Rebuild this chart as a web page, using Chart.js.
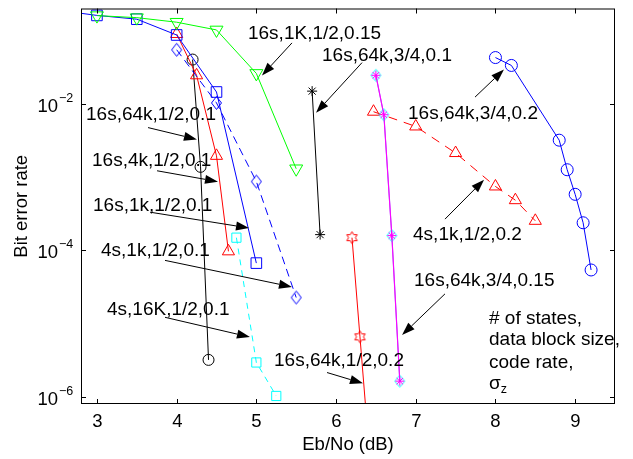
<!DOCTYPE html>
<html>
<head>
<meta charset="utf-8">
<script src="https://cdn.jsdelivr.net/npm/chart.js@4"></script>
<style>
  html, body { margin: 0; padding: 0; background: #fff; }
</style>
</head>
<body>
<canvas id="berChart" width="633" height="459"></canvas>
<script>
// values: x = Eb/No (dB), y = bit error rate
const green_x = [3.0, 3.5, 4.0, 4.5, 5.0, 5.5];
const green_y = [0.16, 0.15, 0.13, 0.102, 0.026, 0.0013];

const blueSq_x = [2.5, 3.0, 3.5, 4.0, 4.5, 5.0];
const blueSq_y = [0.19, 0.161, 0.143, 0.087, 0.0145, 6.7e-5];

const blueDia_x = [4.0, 4.5, 5.0, 5.5];
const blueDia_y = [0.0547, 0.0103, 8.7e-4, 2.27e-5];

const red_x = [4.0, 4.25, 4.5, 4.65];
const red_y = [0.0898, 0.0245, 0.00195, 9.7e-5];

const blackCirc_x = [4.2, 4.3, 4.4];
const blackCirc_y = [0.0402, 0.00138, 3.2e-6];

const cyanSq_x = [4.75, 5.0, 5.25];
const cyanSq_y = [1.49e-4, 2.95e-6, 1.03e-6];

const blackStar_x = [5.7, 5.8];
const blackStar_y = [0.0149, 1.64e-4];

const hexa_x = [6.2, 6.3, 6.4];
const hexa_y = [1.49e-4, 6.6e-6, 3e-7];

const magenta_x = [6.5, 6.6, 6.7, 6.8];
const magenta_y = [0.0245, 0.0071, 1.59e-4, 1.64e-6];

const redDash_x = [6.47, 7.0, 7.5, 8.0, 8.25, 8.5];
const redDash_y = [0.00781, 0.00491, 0.00213, 7.45e-4, 4.84e-4, 2.53e-4];

const blueCirc_x = [8.0, 8.2, 8.8, 8.9, 9.0, 9.1, 9.2];
const blueCirc_y = [0.0428, 0.0334, 0.00319, 0.00126, 5.82e-4, 2.38e-4, 5.4e-5];

const xTicks = [3, 4, 5, 6, 7, 8, 9];
const yTicks = [1e-6, 1e-4, 1e-2];

// labels with arrows, anchored in data units
const notes = [
  { text: '16s,1K,1/2,0.15',  x: 4.895, y: 0.0895,  tail: [5.447, 0.0678],  head: [5.071, 0.0244] },
  { text: '16s,64k,3/4,0.1',  x: 5.824, y: 0.0453,  tail: [6.326, 0.0365],  head: [5.749, 0.00755] },
  { text: '16s,64k,3/4,0.2',  x: 6.903, y: 0.00731, tail: [7.744, 0.01236], head: [8.107, 0.0294] },
  { text: '16s,64k,1/2,0.1',  x: 2.863, y: 0.0071,  tail: [3.641, 0.00474], head: [4.255, 0.00327] },
  { text: '16s,4k,1/2,0.1',   x: 2.938, y: 0.00166, tail: [3.754, 0.00122], head: [4.519, 8.67e-4] },
  { text: '16s,1k,1/2,0.1',   x: 2.951, y: 4.12e-4, tail: [3.666, 3.32e-4], head: [4.908, 2.02e-4] },
  { text: '4s,1k,1/2,0.1',    x: 3.051, y: 9.95e-5, tail: [3.854, 7.3e-5],  head: [5.447, 3.17e-5] },
  { text: '4s,16K,1/2,0.1',   x: 3.126, y: 1.56e-5, tail: [3.854, 1.22e-5], head: [4.92, 6.55e-6] },
  { text: '16s,64k,1/2,0.2',  x: 5.222, y: 3.12e-6, tail: [5.887, 2.15e-6], head: [6.338, 1.53e-6] },
  { text: '16s,64k,3/4,0.15', x: 6.978, y: 3.81e-5, tail: [7.367, 2.55e-5], head: [6.828, 6.97e-6] },
  { text: '4s,1k,1/2,0.2',    x: 6.966, y: 1.63e-4, tail: [7.367, 2.67e-4], head: [7.857, 9.2e-4] }
];
const keyLines = ['# of states,', 'data block size,', 'code rate,'];
const keyX = 7.919;
const keyY = [1.18e-5, 5.97e-6, 2.93e-6, 1.53e-6];

const FONT = '"Liberation Sans", Arial, Helvetica, sans-serif';

function pts(xs, ys) {
  return xs.map((x, i) => ({ x: x, y: ys[i] }));
}

// small outline markers that Chart.js has no built-in style for
function hexagram(color, r) {
  const c = document.createElement('canvas');
  const s = Math.ceil(r * 2 + 3);
  c.width = c.height = s;
  const g = c.getContext('2d');
  g.strokeStyle = color;
  g.lineWidth = 1;
  g.beginPath();
  for (let i = 0; i < 12; i++) {
    const a = -Math.PI / 2 + i * Math.PI / 6;
    const rr = i % 2 ? r * 0.577 : r;
    const px = s / 2 + rr * Math.cos(a), py = s / 2 + rr * Math.sin(a);
    if (i) g.lineTo(px, py); else g.moveTo(px, py);
  }
  g.closePath();
  g.stroke();
  return c;
}

function diamond(color, w, h) {
  const c = document.createElement('canvas');
  c.width = w + 3; c.height = h + 3;
  const g = c.getContext('2d');
  const cx = c.width / 2, cy = c.height / 2;
  g.strokeStyle = color;
  g.lineWidth = 1;
  g.beginPath();
  g.moveTo(cx, cy - h / 2);
  g.lineTo(cx + w / 2, cy);
  g.lineTo(cx, cy + h / 2);
  g.lineTo(cx - w / 2, cy);
  g.closePath();
  g.stroke();
  return c;
}

function series(data, color, style, radius, extra) {
  return Object.assign({
    data: data,
    borderColor: color,
    borderWidth: 1,
    pointStyle: style,
    pointRadius: radius,
    pointBorderColor: color,
    pointBackgroundColor: 'rgba(0,0,0,0)',
    pointBorderWidth: 1,
    tension: 0,
    fill: false
  }, extra || {});
}

const datasets = [
  series(pts(magenta_x, magenta_y), '#ff00ff', 'star', 4.5),
  series(pts(magenta_x, magenta_y), '#a060ff', diamond('#00ffff', 10, 12), 6, { borderWidth: 1.2 }),
  series(pts(green_x, green_y), '#00ff00', 'triangle', 7.5, { pointRotation: 180 }),
  series(pts(blueSq_x, blueSq_y), '#0000ff', 'rect', 7.5),
  series(pts(blueDia_x, blueDia_y), '#0000ff', diamond('#0000ff', 10, 13), 6, { borderDash: [8, 5] }),
  series(pts(red_x, red_y), '#ff0000', 'triangle', 7),
  series(pts(blackCirc_x, blackCirc_y), '#000000', 'circle', 5.5),
  series(pts(cyanSq_x, cyanSq_y), '#00ffff', 'rect', 6.5, { borderDash: [6, 5] }),
  series(pts(blackStar_x, blackStar_y), '#000000', 'star', 5),
  series(pts(hexa_x, hexa_y), '#ff0000', hexagram('#ff0000', 6), 6),
  series(pts(redDash_x, redDash_y), '#ff0000', 'triangle', 7, { borderDash: [9, 7] }),
  series(pts(blueCirc_x, blueCirc_y), '#0000ff', 'circle', 6)
];

function arrow(ctx, x0, y0, x1, y1) {
  const a = Math.atan2(y1 - y0, x1 - x0);
  const len = 13, half = 4.5;
  const bx = x1 - len * Math.cos(a), by = y1 - len * Math.sin(a);
  ctx.beginPath();
  ctx.moveTo(x0, y0);
  ctx.lineTo(bx, by);
  ctx.stroke();
  ctx.beginPath();
  ctx.moveTo(x1, y1);
  ctx.lineTo(bx + half * Math.sin(a), by - half * Math.cos(a));
  ctx.lineTo(bx - half * Math.sin(a), by + half * Math.cos(a));
  ctx.closePath();
  ctx.fill();
}

// MATLAB style box, inward ticks, 10^n labels and the annotations
const matlabAxes = {
  id: 'matlabAxes',
  afterDraw(chart) {
    const ctx = chart.ctx;
    const xs = chart.scales.x, ys = chart.scales.y;
    const a = chart.chartArea;
    ctx.save();
    ctx.strokeStyle = '#000';
    ctx.fillStyle = '#000';
    ctx.lineWidth = 1;
    ctx.strokeRect(a.left + 0.5, a.top + 0.5, a.right - a.left - 1, a.bottom - a.top - 1);

    ctx.font = '18.5px ' + FONT;
    ctx.textAlign = 'center';
    ctx.textBaseline = 'middle';
    xTicks.forEach(v => {
      const px = Math.round(xs.getPixelForValue(v)) + 0.5;
      ctx.beginPath();
      ctx.moveTo(px, a.bottom); ctx.lineTo(px, a.bottom - 5);
      ctx.moveTo(px, a.top); ctx.lineTo(px, a.top + 5);
      ctx.stroke();
      ctx.fillText(String(v), px, a.bottom + 18);
    });
    yTicks.forEach(v => {
      const py = Math.round(ys.getPixelForValue(v)) + 0.5;
      ctx.beginPath();
      ctx.moveTo(a.left, py); ctx.lineTo(a.left + 5, py);
      ctx.moveTo(a.right, py); ctx.lineTo(a.right - 5, py);
      ctx.stroke();
      ctx.font = '18.5px ' + FONT;
      ctx.textAlign = 'right';
      ctx.fillText('10', 58, py + 2);
      ctx.font = '12.5px ' + FONT;
      ctx.textAlign = 'left';
      ctx.fillText('\u2212' + Math.abs(Math.round(Math.log10(v))), 59, py - 6);
    });

    ctx.font = '18.5px ' + FONT;
    ctx.textAlign = 'center';
    ctx.fillText('Eb/No (dB)', (a.left + a.right) / 2, a.bottom + 41);
    ctx.save();
    ctx.translate(22, (a.top + a.bottom) / 2);
    ctx.rotate(-Math.PI / 2);
    ctx.fillText('Bit error rate', 0, 0);
    ctx.restore();

    ctx.font = '19px ' + FONT;
    ctx.textAlign = 'left';
    notes.forEach(n => {
      ctx.fillText(n.text, xs.getPixelForValue(n.x), ys.getPixelForValue(n.y));
      arrow(ctx,
        xs.getPixelForValue(n.tail[0]), ys.getPixelForValue(n.tail[1]),
        xs.getPixelForValue(n.head[0]), ys.getPixelForValue(n.head[1]));
    });

    const kx = xs.getPixelForValue(keyX);
    keyLines.forEach((t, i) => ctx.fillText(t, kx, ys.getPixelForValue(keyY[i])));
    const sy = ys.getPixelForValue(keyY[3]);
    ctx.fillText('\u03c3', kx, sy);
    const sw = ctx.measureText('\u03c3').width;
    ctx.font = '12.5px ' + FONT;
    ctx.fillText('z', kx + sw, sy + 6);
    ctx.restore();
  }
};

new Chart(document.getElementById('berChart'), {
  type: 'line',
  data: { datasets: datasets },
  plugins: [matlabAxes],
  options: {
    responsive: false,
    animation: false,
    layout: { padding: { top: 2, right: 18, left: 0, bottom: 0 } },
    plugins: { legend: { display: false }, tooltip: { enabled: false } },
    scales: {
      x: {
        type: 'linear', min: 2.8, max: 9.5,
        grid: { display: false }, border: { display: false },
        ticks: { display: false },
        afterBuildTicks: s => { s.ticks = xTicks.map(v => ({ value: v })); },
        afterFit: s => { s.height = 55; }
      },
      y: {
        type: 'logarithmic', min: 8e-7, max: 0.2,
        grid: { display: false }, border: { display: false },
        ticks: { display: false },
        afterBuildTicks: s => { s.ticks = yTicks.map(v => ({ value: v })); },
        afterFit: s => { s.width = 81; }
      }
    }
  }
});
</script>
</body>
</html>
